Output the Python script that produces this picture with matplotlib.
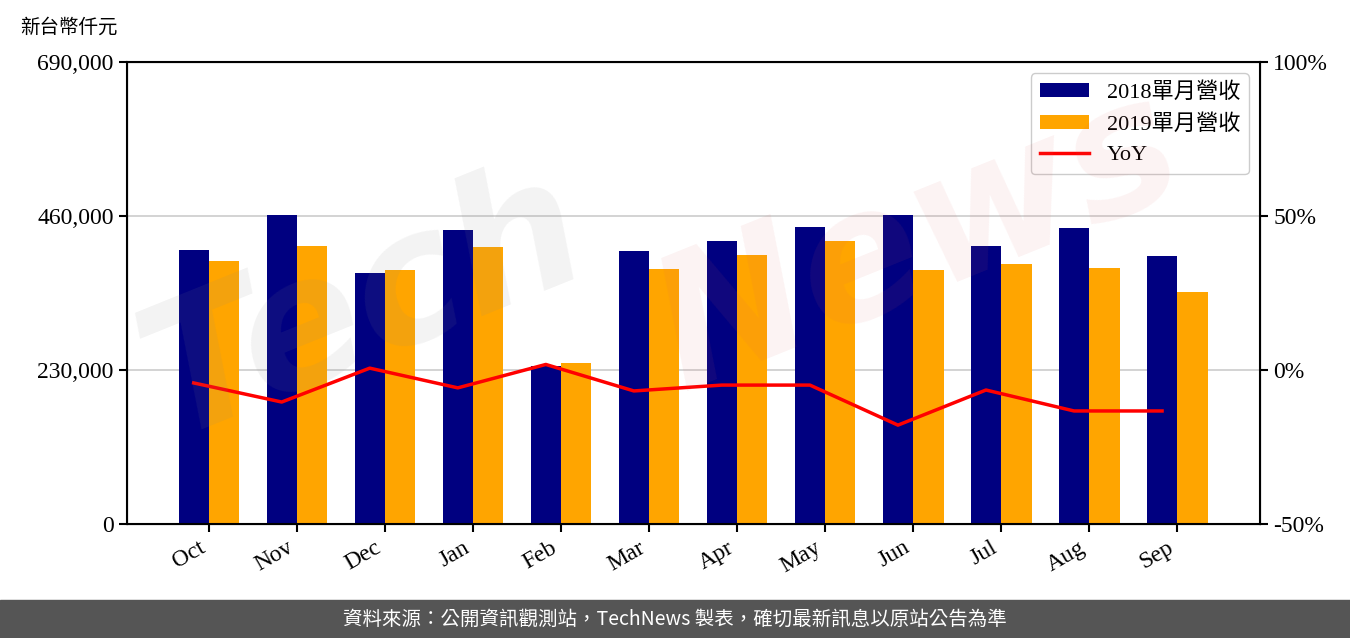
import numpy as np
import matplotlib
matplotlib.use("Agg")
import matplotlib.pyplot as plt
from matplotlib.ticker import FuncFormatter

plt.rcParams['font.family'] = ['Liberation Serif', 'Noto Sans CJK TC']

months = ['Oct', 'Nov', 'Dec', 'Jan', 'Feb', 'Mar', 'Apr', 'May', 'Jun', 'Jul', 'Aug', 'Sep']
rev2018 = [409300, 461600, 375000, 439200, 236000, 407900, 422800, 443700, 461600, 415300, 442200, 400400]
rev2019 = [392900, 415300, 379500, 413800, 240500, 381000, 401900, 422800, 379500, 388400, 382500, 346600]
yoy = [-4.2, -10.4, 0.6, -5.8, 1.8, -6.8, -4.9, -4.9, -17.9, -6.5, -13.3, -13.3]

fig = plt.figure(figsize=(13.5, 6.38), dpi=100)
ax = fig.add_axes([127/1350, 1-524/638, (1260-127)/1350, (524-62)/638])

x = np.arange(len(months))
w = 0.345
ax.bar(x - w/2, rev2018, w, color='#000080', label='2018單月營收', zorder=2)
ax.bar(x + w/2, rev2019, w, color='#FFA500', label='2019單月營收', zorder=2)
ax.set_ylim(0, 690000)
ax.set_yticks([0, 230000, 460000, 690000])
ax.yaxis.set_major_formatter(FuncFormatter(lambda v, p: f'{int(v):,}'))
ax.set_xlim(-0.93, 11.94)
ax.set_xticks(x)
ax.set_xticklabels(months, rotation=30, ha='right')
ax.grid(axis='y', color='#cccccc', linewidth=1.2, zorder=0)
ax.tick_params(labelsize=17, length=6, width=1.5)
for s in ax.spines.values():
    s.set_linewidth(1.5)

ax2 = ax.twinx()
ax2.plot(x - w/2, yoy, color='red', linewidth=2.5, label='YoY', zorder=3)
ax2.set_ylim(-50, 100)
ax2.set_yticks([-50, 0, 50, 100])
ax2.yaxis.set_major_formatter(FuncFormatter(lambda v, p: f'{int(v)}%'))
ax2.tick_params(labelsize=17, length=6, width=1.5)

h1, l1 = ax.get_legend_handles_labels()
h2, l2 = ax2.get_legend_handles_labels()
ax2.legend(h1 + h2, l1 + l2, loc='upper right', fontsize=16, framealpha=1,
           edgecolor='#cccccc', handlelength=2.2, handleheight=0.6, borderaxespad=0.5)

# watermark
fig.text(0.27, 0.52, 'Tech', fontsize=130, color='#888888', alpha=0.10, rotation=22,
         ha='center', va='center', family='DejaVu Sans', style='italic', fontweight='bold')
fig.text(0.68, 0.62, 'News', fontsize=130, color='#e06060', alpha=0.08, rotation=22,
         ha='center', va='center', family='DejaVu Sans', style='italic', fontweight='bold')

fig.text(20/1350, 1-27/638, '新台幣仟元', fontsize=14, va='center', ha='left',
         family=['Noto Sans CJK TC'])

fig.patches.append(plt.Rectangle((0, 0), 1, 38/638, transform=fig.transFigure,
                                 color='#555555', zorder=0))
fig.text(0.5, 19/638, '資料來源：公開資訊觀測站，TechNews 製表，確切最新訊息以原站公告為準',
         color='white', fontsize=14, ha='center', va='center', family=['Noto Sans CJK TC'])

fig.savefig('out.png', dpi=100)
